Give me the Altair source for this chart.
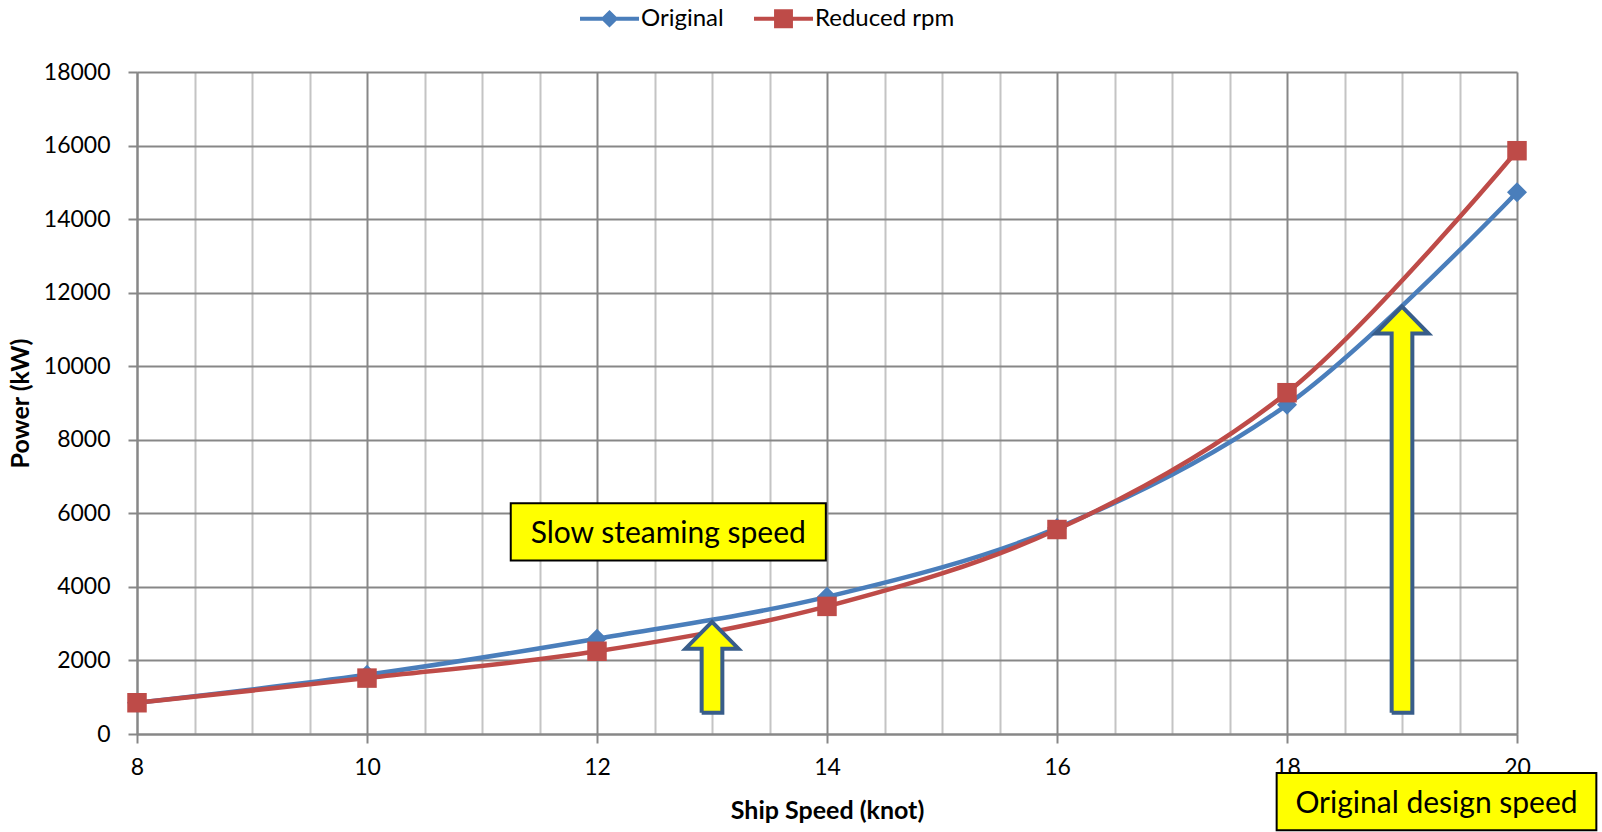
import altair as alt
import pandas as pd

# ---- data ----
speed = [8, 10, 12, 14, 16, 18, 20]
original_kw = [850, 1610, 2590, 3730, 5600, 8950, 14730]
reduced_kw = [850, 1520, 2250, 3470, 5560, 9280, 15860]
series_names = ["Original", "Reduced rpm"]
series_colors = ["#4a7ebb", "#be4b48"]

y_ticks = [0, 2000, 4000, 6000, 8000, 10000, 12000, 14000, 16000, 18000]

# block arrows (annotation): speed, base power, tip power
arrow_speed = [13, 19]
arrow_base_kw = [580, 580]
arrow_tip_kw = [3050, 11620]

# annotation boxes
box_labels = ["Slow steaming speed", "Original design speed"]
box_x1 = [11.25, 17.91]
box_x2 = [13.99, 20.69]
box_y1 = [4717, -2620]
box_y2 = [6277, -1060]

# ---- tables ----
df = pd.DataFrame({
    "speed": speed + speed,
    "power": original_kw + reduced_kw,
    "series": [series_names[0]] * len(speed) + [series_names[1]] * len(speed),
})

HEAD_H = 730      # kW
HEAD_HALF = 0.23  # knot
SHAFT_HALF = 0.09  # knot
arrow_rows = []
for i, (sx, b, t) in enumerate(zip(arrow_speed, arrow_base_kw, arrow_tip_kw)):
    hb = t - HEAD_H
    poly = [
        (sx - SHAFT_HALF, b),
        (sx - SHAFT_HALF, hb),
        (sx - HEAD_HALF, hb),
        (sx, t),
        (sx + HEAD_HALF, hb),
        (sx + SHAFT_HALF, hb),
        (sx + SHAFT_HALF, b),
        (sx - SHAFT_HALF, b),
    ]
    for k, (xx, yy) in enumerate(poly):
        arrow_rows.append({"arrow": i, "ord": k, "x": xx, "y": yy})
arrows_df = pd.DataFrame(arrow_rows)

boxes_df = pd.DataFrame({
    "label": box_labels,
    "x1": box_x1, "x2": box_x2, "y1": box_y1, "y2": box_y2,
})
boxes_df["xc"] = (boxes_df["x1"] + boxes_df["x2"]) / 2
boxes_df["yc"] = (boxes_df["y1"] + boxes_df["y2"]) / 2

# ---- scales / axes ----
FONT = "Lato"
xs = alt.Scale(domain=[8, 20], nice=False, zero=False)
ys = alt.Scale(domain=[0, 18000], nice=False)

minor_vals = [8 + 0.5 * i for i in range(25)]
x_axis = alt.Axis(
    values=minor_vals,
    labelExpr="datum.value % 2 === 0 ? format(datum.value, 'd') : ''",
    grid=True,
    gridColor={"condition": {"test": "datum.value % 2 === 0", "value": "#878787"}, "value": "#c4c4c4"},
    gridWidth=2,
    tickColor={"condition": {"test": "datum.value % 2 === 0", "value": "#878787"}, "value": "transparent"},
    tickSize=9, tickWidth=2,
    domainColor="#878787", domainWidth=2,
    labelFont=FONT, labelFontSize=23, labelColor="black", labelPadding=13,
    labelFlush=False, labelOverlap=False,
    titleFont=FONT, titleFontSize=25, titleFontWeight="bold", titleColor="black",
    titlePadding=19,
)
y_axis = alt.Axis(
    values=y_ticks, format="d",
    grid=True, gridColor="#878787", gridWidth=2,
    tickColor="#878787", tickSize=9, tickWidth=2,
    domainColor="#878787", domainWidth=2,
    labelFont=FONT, labelFontSize=23, labelColor="black", labelPadding=18,
    labelFlush=False, labelOverlap=False,
    titleFont=FONT, titleFontSize=25, titleFontWeight="bold", titleColor="black",
    titlePadding=10,
)

# legend symbols: line with diamond / line with square (filled paths)
legend_shapes = [
    "M-1,-0.072H1V0.072H-1Z M0,-0.3L0.3,0L0,0.3L-0.3,0Z",
    "M-1,-0.072H1V0.072H-1Z M-0.32,-0.32H0.32V0.32H-0.32Z",
]
legend = alt.Legend(
    orient="none", legendX=443, legendY=-83, direction="horizontal", title=None,
    labelFont=FONT, labelFontSize=24, labelColor="black",
    symbolSize=3481, symbolStrokeWidth=0, symbolOpacity=1,
    labelOffset=2, columnPadding=30, padding=0,
)

x_enc = alt.X("speed:Q", scale=xs, axis=x_axis, title="Ship Speed (knot)")
y_enc = alt.Y("power:Q", scale=ys, axis=y_axis, title="Power (kW)")

layers = []
for name, col in zip(series_names, series_colors):
    base = alt.Chart(df).transform_filter(alt.datum.series == name)
    layers.append(base.mark_line(interpolate="catmull-rom", strokeWidth=4.5, color=col).encode(
        x=x_enc, y=y_enc))
for name, col, shp, sz in zip(series_names, series_colors, ["diamond", "square"], [400, 380]):
    base = alt.Chart(df).transform_filter(alt.datum.series == name)
    layers.append(base.mark_point(filled=True, opacity=1, size=sz, shape=shp, color=col).encode(
        x=alt.X("speed:Q", scale=xs), y=alt.Y("power:Q", scale=ys)))

# legend-only layer (no marks drawn)
legend_layer = alt.Chart(df).transform_filter("false").mark_point(filled=True, opacity=1).encode(
    x=alt.X("speed:Q", scale=xs), y=alt.Y("power:Q", scale=ys),
    color=alt.Color("series:N", scale=alt.Scale(domain=series_names, range=series_colors), legend=legend),
    shape=alt.Shape("series:N", scale=alt.Scale(domain=series_names, range=legend_shapes), legend=legend),
)

arrows = alt.Chart(arrows_df).mark_line(
    fill="#ffff00", stroke="#385d8a", strokeWidth=4, strokeJoin="miter", opacity=1,
    interpolate="linear", clip=False,
).encode(
    x=alt.X("x:Q", scale=xs),
    y=alt.Y("y:Q", scale=ys),
    order="ord:Q",
    detail="arrow:N",
)

boxes = alt.Chart(boxes_df).mark_rect(fill="#ffff00", stroke="black", strokeWidth=2, clip=False).encode(
    x=alt.X("x1:Q", scale=xs), x2="x2:Q",
    y=alt.Y("y1:Q", scale=ys), y2="y2:Q",
)
box_text = alt.Chart(boxes_df).mark_text(font=FONT, fontSize=30, color="black", clip=False, dy=2).encode(
    x=alt.X("xc:Q", scale=xs),
    y=alt.Y("yc:Q", scale=ys),
    text="label:N",
)

chart = alt.layer(*layers, legend_layer, arrows, boxes, box_text).properties(
    width=1380, height=662,
    autosize=alt.AutoSizeParams(type="none"),
    padding={"left": 137, "top": 72, "right": 85, "bottom": 98},
).configure_view(stroke=None)

chart.save("out.html", embed_options={"renderer": "svg", "actions": False})
